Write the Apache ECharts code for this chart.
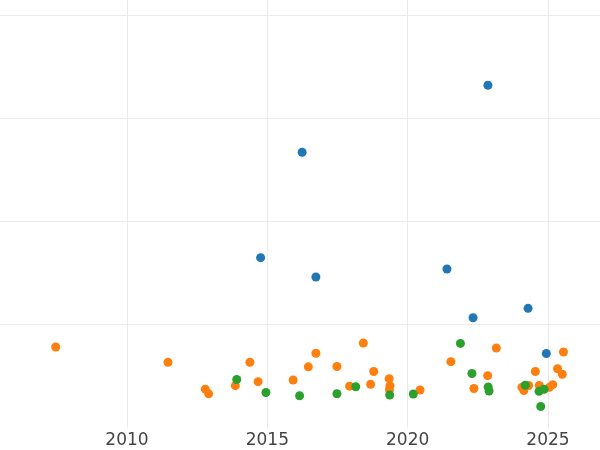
<!DOCTYPE html>
<html>
<head>
<meta charset="utf-8">
<script src="https://cdn.jsdelivr.net/npm/echarts@6/dist/echarts.min.js"></script>
<style>html,body{margin:0;padding:0;background:#fff;}#c{width:600px;height:450px;}</style>
</head>
<body>
<div id="c"></div>
<script>
const xTicks = [2010, 2015, 2020, 2025];
const blueData = [
  [2022.86, 3.322], [2016.24, 2.672], [2014.76, 1.649], [2016.73, 1.461],
  [2021.40, 1.539], [2022.33, 1.065], [2024.29, 1.157], [2024.94, 0.718]
];
const orangeData = [
  [2007.46, 0.782], [2011.46, 0.633], [2012.79, 0.372], [2012.91, 0.327],
  [2013.86, 0.406], [2014.38, 0.633], [2014.67, 0.445], [2015.92, 0.461],
  [2016.46, 0.589], [2016.73, 0.721], [2017.48, 0.592], [2017.93, 0.401],
  [2018.42, 0.820], [2018.68, 0.419], [2018.79, 0.544], [2019.34, 0.474],
  [2019.37, 0.406], [2019.35, 0.366], [2020.44, 0.364], [2021.54, 0.639],
  [2022.36, 0.379], [2022.85, 0.503], [2023.16, 0.772], [2024.07, 0.390],
  [2024.14, 0.359], [2024.31, 0.408], [2024.55, 0.544], [2024.69, 0.408],
  [2025.05, 0.390], [2025.17, 0.416], [2025.34, 0.570], [2025.51, 0.517],
  [2025.55, 0.733]
];
const greenData = [
  [2013.91, 0.466], [2014.95, 0.340], [2016.15, 0.308], [2017.48, 0.328],
  [2018.15, 0.396], [2019.36, 0.316], [2020.20, 0.325], [2021.88, 0.816],
  [2022.29, 0.524], [2022.87, 0.393], [2022.90, 0.354], [2024.19, 0.410],
  [2024.68, 0.351], [2024.86, 0.371], [2024.74, 0.204]
];

const chart = echarts.init(document.getElementById('c'), null, {renderer: 'canvas'});
const grid = '#ebebeb';
const none = 'rgba(0,0,0,0)';
chart.setOption({
  animation: false,
  backgroundColor: '#ffffff',
  grid: {left: -13.33, right: -88.33, top: 0, bottom: 22.5, containLabel: false, outerBoundsMode: 'none'},
  xAxis: {
    type: 'value', min: 2005, max: 2030, interval: 5,
    axisLine: {show: false}, axisTick: {show: false},
    splitLine: {show: true, lineStyle: {color: grid, width: 1}},
    axisLabel: {
      show: true, margin: 5, color: '#444', fontSize: 17, fontFamily: 'DejaVu Sans',
      formatter: v => xTicks.indexOf(Math.round(v)) >= 0 ? String(Math.round(v)) : ''
    }
  },
  yAxis: {
    type: 'value', min: 0, max: 4.15, interval: 1,
    axisLine: {show: false}, axisTick: {show: false}, axisLabel: {show: false},
    splitLine: {show: true, lineStyle: {color: [none, grid, grid, grid, grid, none, none], width: 1}}
  },
  series: [
    {type: 'scatter', data: blueData, symbolSize: 9, itemStyle: {color: '#1f77b4', opacity: 1}},
    {type: 'scatter', data: orangeData, symbolSize: 9, itemStyle: {color: '#ff7f0e', opacity: 1}},
    {type: 'scatter', data: greenData, symbolSize: 9, itemStyle: {color: '#2ca02c', opacity: 1}}
  ]
});
</script>
</body>
</html>
